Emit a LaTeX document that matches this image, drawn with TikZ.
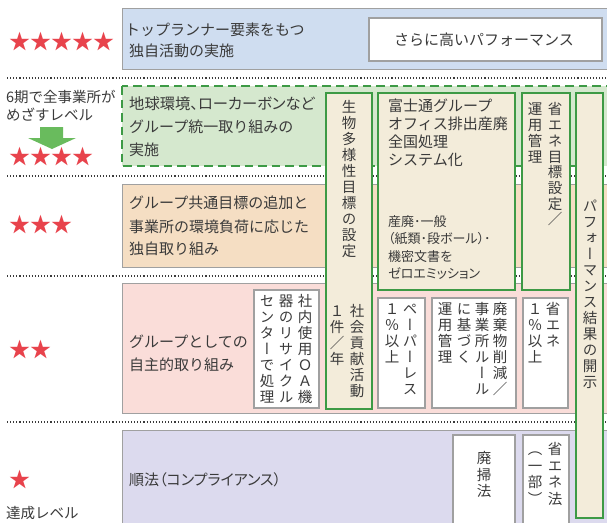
\documentclass[tikz,border=0pt]{standalone}
\usepackage{fontspec}
\setmainfont{Noto Sans CJK JP}
\newfontfamily\jp{Noto Sans CJK JP}
\newfontfamily\pjp[RawFeature=+palt]{Noto Sans CJK JP}
\newfontfamily\vjp[RawFeature=+vert]{Noto Sans CJK JP}
\definecolor{rowblue}{HTML}{CFDDF0}
\definecolor{rowgreen}{HTML}{D5E8CE}
\definecolor{rowtan}{HTML}{F5DEC3}
\definecolor{rowpink}{HTML}{FADDD9}
\definecolor{rowlav}{HTML}{DCDAEE}
\definecolor{colfill}{HTML}{F3ECDA}
\definecolor{gline}{HTML}{3D9A45}
\definecolor{garrow}{HTML}{69BB5D}
\definecolor{starred}{HTML}{E8434C}
\definecolor{tcol}{HTML}{3A3A3A}
\definecolor{gborder}{HTML}{A0A0A0}
\ExplSyntaxOn
\NewDocumentCommand\vtext{O{16}m}{
  \vbox{\baselineskip=#1pt\lineskip=0pt\lineskiplimit=-100pt
    \tl_map_inline:nn {#2}{\hbox_to_wd:nn{1em}{\vrule~height~.88em~depth~.12em~width~0pt\hss##1\hss}}}
}
\ExplSyntaxOff
\tikzset{
  txt/.style={inner sep=0pt, text=tcol, font=\jp\fontsize{15}{18}\selectfont},
  lbl/.style={inner sep=0pt, text=tcol, font=\jp\fontsize{14.5}{17}\selectfont},
  vt/.style={inner sep=0pt, text=tcol, anchor=north, font=\vjp\fontsize{14.5}{16}\selectfont},
  stars/.style={inner sep=0pt, text=starred, anchor=west, font=\jp\fontsize{21}{21}\selectfont},
  rowbox/.style={draw=gborder, line width=0.8pt},
  dots/.style={draw=tcol, line width=1.3pt, dash pattern=on 1.1pt off 2pt},
  greencol/.style={draw=gline, fill=colfill, line width=2.4pt},
  graybox/.style={draw=gborder, fill=white, line width=1.4pt},
}
\begin{document}
\begin{tikzpicture}[x=1pt,y=-1pt]
\useasboundingbox (0,0) rectangle (607,522);
\clip (0,0) rectangle (607,522);
\fill[white] (0,0) rectangle (607,522);
% dotted separators
\coordinate (d1a) at (7,78); \coordinate (d1b) at (607,78);
\coordinate (d2a) at (7,176); \coordinate (d2b) at (607,176);
\coordinate (d3a) at (7,276); \coordinate (d3b) at (607,276);
\coordinate (d4a) at (7,422); \coordinate (d4b) at (607,422);
\draw[dots] (d1a) -- (d1b);
\draw[dots] (d2a) -- (d2b);
\draw[dots] (d3a) -- (d3b);
\draw[dots] (d4a) -- (d4b);
% row boxes
\draw[rowbox, fill=rowblue] (122,8) rectangle (612,69);
\draw[gline, fill=rowgreen, line width=2.2pt, dash pattern=on 8.5pt off 5pt] (122,86) rectangle (612,166);
\draw[rowbox, fill=rowtan] (122,184) rectangle (612,267);
\draw[rowbox, fill=rowpink] (122,283) rectangle (612,413);
\draw[rowbox, fill=rowlav] (122,430) rectangle (612,530);
% stars
\node[stars] (s5) at (9,42) {★★★★★};
\node[stars] (s4) at (9,157) {★★★★};
\node[stars] (s3) at (9,225) {★★★};
\node[stars] (s2) at (9,350) {★★};
\node[stars] (s1) at (9,480) {★};
% left labels
\node[lbl, anchor=west] (lv1) at (6,97) {6期で全事業所が};
\node[lbl, anchor=west] (lv2) at (6,115) {めざすレベル};
\node[lbl, anchor=west] (lv0) at (6,513) {達成レベル};
\fill[garrow] (40,127) -- (63,127) -- (63,138) -- (76,138) -- (52,149) -- (28,138) -- (40,138) -- cycle;
% row texts
\node[txt, anchor=west] (r5a) at (125,30) {トップランナー要素をもつ};
\node[txt, anchor=west] (r5b) at (129,51) {独自活動の実施};
\node[txt, anchor=west, font=\pjp\fontsize{15.3}{18}\selectfont] (r4a) at (129,104) {地球環境、ローカーボンなど};
\node[txt, anchor=west] (r4b) at (129,127) {グループ統一取り組みの};
\node[txt, anchor=west] (r4c) at (129,150) {実施};
\node[txt, anchor=west] (r3a) at (129,203) {グループ共通目標の追加と};
\node[txt, anchor=west] (r3b) at (129,227) {事業所の環境負荷に応じた};
\node[txt, anchor=west] (r3c) at (129,249) {独自取り組み};
\node[txt, anchor=west] (r2a) at (129,342) {グループとしての};
\node[txt, anchor=west] (r2b) at (129,365) {自主的取り組み};
\node[txt, anchor=west, font=\pjp\fontsize{15}{18}\selectfont] (r1a) at (129,480) {順法（コンプライアンス）};
% white box top row
\draw[graybox] (369,18) rectangle (602,61);
\node[txt] (perf) at (484,40) {さらに高いパフォーマンス};
% row 2 gray boxes
\draw[graybox] (254,290) rectangle (319,408);
\node[vt] (oa1) at (305,294) {\vtext{社内使用ＯＡ機}};
\node[vt] (oa2) at (286,294) {\vtext{器のリサイクル}};
\node[vt] (oa3) at (267,294) {\vtext{センターで処理}};
\draw[graybox] (378,298) rectangle (425,408);
\node[vt] (pl1) at (410,302) {\vtext{ペーパーレス}};
\node[vt] (pl2) at (392,302) {\vtext{１％以上}};
\draw[graybox] (432,298) rectangle (516,408);
\node[vt] (hk1) at (500,302) {\vtext{廃棄物削減{\jp ／}}};
\node[vt] (hk2) at (482,302) {\vtext{事業所ルール}};
\node[vt] (hk3) at (464,302) {\vtext{に基づく}};
\node[vt] (hk4) at (445,302) {\vtext{運用管理}};
\draw[graybox] (523,298) rectangle (568,408);
\node[vt] (se1) at (553,302) {\vtext{省エネ}};
\node[vt] (se2) at (535,302) {\vtext{１％以上}};
% row 1 gray boxes
\draw[graybox] (453,435) rectangle (515,525);
\node[vt] (hs) at (484,451) {\vtext[16.5]{廃掃法}};
\draw[graybox] (523,435) rectangle (569,525);
\node[vt] (sh1) at (555,442) {\vtext[16.5]{省エネ法}};
\node[vt] (sh2) at (535,442) {\vtext[16.5]{（一部）}};
% green columns
\draw[greencol] (326,93) rectangle (372,409);
\node[vt] (bio) at (349,100) {\vtext{生物多様性目標の設定}};
\node[vt] (soc1) at (357,304) {\vtext{社会貢献活動}};
\node[vt] (soc2) at (337,304) {\vtext{１件{\jp ／}年}};
\draw[greencol] (378,93) rectangle (515,290);
\node[txt, anchor=north west, align=left] (fj) at (388,99) {富士通グループ\\オフィス排出産廃\\全国処理\\システム化};
\node[txt, anchor=north west, align=left, font=\pjp\fontsize{13}{17.5}\selectfont] (zero) at (388,215) {産廃･一般\\（紙類･段ボール）･\\機密文書を\\ゼロエミッション};
\draw[greencol] (522,93) rectangle (570,290);
\node[vt] (en1) at (555,102) {\vtext[15.7]{省エネ目標設定{\jp ／}}};
\node[vt] (en2) at (535,102) {\vtext[15.7]{運用管理}};
\draw[greencol] (576,93) rectangle (603,518);
\node[vt] (disc) at (590,199) {\vtext{パフォーマンス結果の開示}};
\end{tikzpicture}
\end{document}
